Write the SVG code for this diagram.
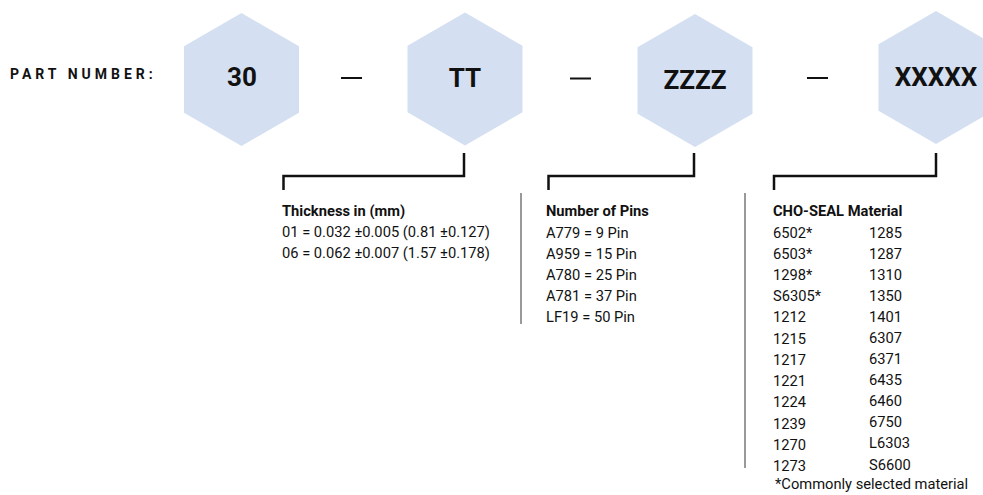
<svg xmlns="http://www.w3.org/2000/svg" width="983" height="495" viewBox="0 0 983 495">
<style>
.hex{fill:#d4e0f1}
.big{font-family:Roboto,"Liberation Sans",sans-serif;font-weight:700;font-size:26px;fill:#111;text-anchor:middle}
.lbl{font-family:Roboto,"Liberation Sans",sans-serif;font-weight:700;font-size:14px;fill:#111;letter-spacing:4px}
.t{font-family:Roboto,"Liberation Sans",sans-serif;font-size:14.7px;fill:#111}
.h{font-weight:700}
.br{fill:none;stroke:#111;stroke-width:2.5}
.dash{stroke:#111;stroke-width:2}
.sep{stroke:#777;stroke-width:1.5}
</style>
<defs>
<polygon id="hx" points="0,-66.5 57.5,-33.2 57.5,33.2 0,66.5 -57.5,33.2 -57.5,-33.2"/>
</defs>
<rect width="983" height="495" fill="#fff"/>
<text id="label" class="lbl" x="10" y="79">PART NUMBER:</text>
<g id="node-30"><use href="#hx" class="hex" x="241.5" y="79.5"/><text class="big" x="242" y="86">30</text></g>
<g id="node-TT"><use href="#hx" class="hex" x="465" y="79"/><text class="big" x="465" y="87">TT</text></g>
<g id="node-ZZZZ"><use href="#hx" class="hex" x="695" y="80.5"/><text class="big" x="695" y="89">ZZZZ</text></g>
<g id="node-XXXXX"><use href="#hx" class="hex" x="936" y="77.5"/><text class="big" x="936" y="86">XXXXX</text></g>
<g id="dashes">
<line class="dash" x1="341" y1="78" x2="362" y2="78"/>
<line class="dash" x1="570" y1="78.5" x2="591" y2="78.5"/>
<line class="dash" x1="807" y1="78" x2="828" y2="78"/>
</g>
<g id="connectors">
<polyline class="br" points="464,153 464,176 283.5,176 283.5,190"/>
<polyline class="br" points="694,153 694,176 548.5,176 548.5,190"/>
<polyline class="br" points="936,153 936,176 774,176 774,190"/>
<line class="sep" x1="521" y1="193" x2="521" y2="324"/>
<line class="sep" x1="745" y1="193" x2="745" y2="468"/>
</g>
<g id="thickness" class="t">
<text class="h" x="282" y="216">Thickness in (mm)</text>
<text x="282" y="237">01 = 0.032 ±0.005 (0.81 ±0.127)</text>
<text x="282" y="258">06 = 0.062 ±0.007 (1.57 ±0.178)</text>
</g>
<g id="pins" class="t">
<text class="h" x="546" y="216">Number of Pins</text>
<text x="546" y="237.5">A779 = 9 Pin</text>
<text x="546" y="258.7">A959 = 15 Pin</text>
<text x="546" y="279.9">A780 = 25 Pin</text>
<text x="546" y="301.1">A781 = 37 Pin</text>
<text x="546" y="322.3">LF19 = 50 Pin</text>
</g>
<g id="material" class="t">
<text class="h" x="773" y="216">CHO-SEAL Material</text>
<text x="773" y="237.5">6502*</text><text x="869" y="237.5">1285</text>
<text x="773" y="258.7">6503*</text><text x="869" y="258.7">1287</text>
<text x="773" y="279.9">1298*</text><text x="869" y="279.9">1310</text>
<text x="773" y="301.1">S6305*</text><text x="869" y="301.1">1350</text>
<text x="773" y="322.3">1212</text><text x="869" y="322.3">1401</text>
<text x="773" y="344">1215</text><text x="869" y="342.5">6307</text>
<text x="773" y="365">1217</text><text x="869" y="363.5">6371</text>
<text x="773" y="386.2">1221</text><text x="869" y="384.7">6435</text>
<text x="773" y="407.4">1224</text><text x="869" y="405.9">6460</text>
<text x="773" y="428.6">1239</text><text x="869" y="427.1">6750</text>
<text x="773" y="449.8">1270</text><text x="869" y="448.3">L6303</text>
<text x="773" y="471">1273</text><text x="869" y="469.5">S6600</text>
<text x="775" y="489">*Commonly selected material</text>
</g>
</svg>
